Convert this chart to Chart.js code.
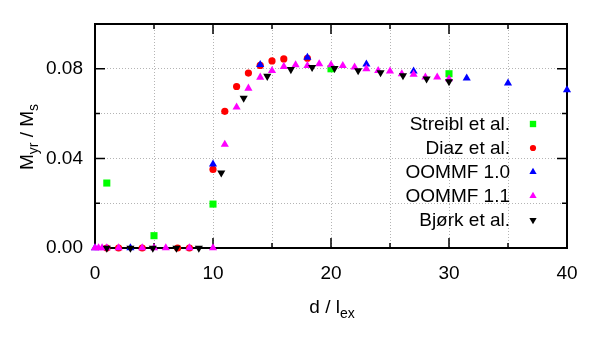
<!DOCTYPE html>
<html>
<head>
<meta charset="utf-8">
<script src="https://cdn.jsdelivr.net/npm/chart.js@4/dist/chart.umd.min.js"></script>
<style>
  html, body { margin: 0; padding: 0; background: #fff; }
  #wrap { width: 600px; height: 350px; }
</style>
</head>
<body>
<div id="wrap"><canvas id="myrChart" width="600" height="350"></canvas></div>
<script>
// DATA
const streiblX = [1, 5, 10, 20, 30];
const streiblY = [0.029, 0.0055, 0.0196, 0.080, 0.0778];

const diazX = [1, 2, 4, 7, 8, 10, 11, 12, 13, 14, 15, 16, 18];
const diazY = [0, 0, 0, 0, 0, 0.0351, 0.061, 0.0721, 0.0781, 0.0815, 0.0835, 0.0844, 0.0847];

const oommf10X = [0, 3, 10, 14, 18, 23, 27, 31.5, 35, 40];
const oommf10Y = [0, 0, 0.0374, 0.0818, 0.0851, 0.0821, 0.0789, 0.0758, 0.0736, 0.0706];

const oommf11X = [0, 0.3, 0.6, 1, 2, 4, 5, 6, 8, 10, 11, 12, 13, 14, 15, 16, 17, 18, 19, 20,
                  21, 22, 23, 24, 25, 26, 27, 28, 29, 30];
const oommf11Y = [0, 0, 0, 0, 0, 0, 0, 0, 0, 0, 0.0462, 0.0629, 0.0713, 0.0762, 0.0792, 0.081,
                  0.0817, 0.0814, 0.0822, 0.0817, 0.0814, 0.0807, 0.080, 0.0792, 0.0789, 0.0777,
                  0.0775, 0.0763, 0.0763, 0.0755];

const bjorkX = [1, 3, 4.9, 6.9, 8.8, 10.7, 12.6, 14.6, 16.6, 18.4, 20.3, 22.3, 24.2, 26.1, 28.1, 30];
const bjorkY = [0, 0, 0, 0, 0, 0.0336, 0.0669, 0.0767, 0.0797, 0.0807, 0.0802, 0.0792, 0.0783,
                0.077, 0.0755, 0.0743];

const seriesNames = ['Streibl et al.', 'Diaz et al.', 'OOMMF 1.0', 'OOMMF 1.1', 'Bjørk et al.'];

const FONT = 'Liberation Sans, Arial, sans-serif';

function pts(xs, ys) {
    return xs.map((x, i) => ({ x: x, y: ys[i] }));
}

// frame with inward ticks (gnuplot style)
const framePlugin = {
    id: 'frame',
    beforeDatasetsDraw(chart) {
        const ctx = chart.ctx;
        const a = chart.chartArea;
        const xs = chart.scales.x, ys = chart.scales.y;
        ctx.save();
        ctx.strokeStyle = '#000';
        ctx.lineWidth = 1.5;
        ctx.beginPath();
        for (let v = 5; v < 40; v += 5) {
            const px = xs.getPixelForValue(v);
            const len = v % 10 === 0 ? 10 : 5;
            ctx.moveTo(px, a.bottom); ctx.lineTo(px, a.bottom - len);
            ctx.moveTo(px, a.top); ctx.lineTo(px, a.top + len);
        }
        for (let k = 1; k < 5; k++) {
            const py = ys.getPixelForValue(k * 0.02);
            const len = k % 2 === 0 ? 10 : 5;
            ctx.moveTo(a.left, py); ctx.lineTo(a.left + len, py);
            ctx.moveTo(a.right, py); ctx.lineTo(a.right - len, py);
        }
        ctx.stroke();
        ctx.lineWidth = 2;
        ctx.strokeRect(a.left, a.top, a.right - a.left, a.bottom - a.top);
        ctx.restore();
    }
};

function drawParts(ctx, parts, x, y) {
    let cx = x;
    parts.forEach(p => {
        ctx.font = (p.sub ? 14 : 19) + 'px ' + FONT;
        ctx.fillText(p.t, cx, y + (p.sub ? 5 : 0));
        cx += ctx.measureText(p.t).width;
    });
}

function partsWidth(ctx, parts) {
    let w = 0;
    parts.forEach(p => {
        ctx.font = (p.sub ? 14 : 19) + 'px ' + FONT;
        w += ctx.measureText(p.t).width;
    });
    return w;
}

// axis titles with subscripts + legend inside the plot
const labelPlugin = {
    id: 'labels',
    afterDraw(chart) {
        const ctx = chart.ctx;
        ctx.save();
        ctx.fillStyle = '#000';
        ctx.textBaseline = 'alphabetic';
        ctx.textAlign = 'left';

        const xt = [{ t: 'd / l' }, { t: 'ex', sub: true }];
        const xw = partsWidth(ctx, xt);
        drawParts(ctx, xt, 332 - xw / 2, 313);

        const yt = [{ t: 'M' }, { t: 'yr', sub: true }, { t: ' / M' }, { t: 's', sub: true }];
        const yw = partsWidth(ctx, yt);
        ctx.save();
        ctx.translate(33, 137);
        ctx.rotate(-Math.PI / 2);
        drawParts(ctx, yt, -yw / 2, 0);
        ctx.restore();

        // legend
        ctx.font = '19px ' + FONT;
        ctx.textAlign = 'right';
        ctx.textBaseline = 'middle';
        chart.data.datasets.forEach((ds, i) => {
            const y = 124 + i * 24;
            ctx.fillStyle = '#000';
            ctx.fillText(ds.label, 510, y + 1);
            ctx.fillStyle = ds.backgroundColor;
            const opts = { pointStyle: ds.pointStyle, radius: ds.pointRadius - 0.5,
                           rotation: ds.pointRotation || 0, borderWidth: 0 };
            if (Chart.helpers && Chart.helpers.drawPoint) {
                Chart.helpers.drawPoint(ctx, opts, 533, y);
            }
        });
        ctx.restore();
    }
};

const ctx = document.getElementById('myrChart').getContext('2d');

new Chart(ctx, {
    type: 'scatter',
    data: {
        datasets: [
            { label: seriesNames[0], data: pts(streiblX, streiblY), pointStyle: 'rect',
              pointRadius: 5, backgroundColor: '#00ff00', order: 5 },
            { label: seriesNames[1], data: pts(diazX, diazY), pointStyle: 'circle',
              pointRadius: 3.6, backgroundColor: '#ff0000', order: 4 },
            { label: seriesNames[2], data: pts(oommf10X, oommf10Y), pointStyle: 'triangle',
              pointRadius: 4.7, backgroundColor: '#0000ff', order: 3 },
            { label: seriesNames[3], data: pts(oommf11X, oommf11Y), pointStyle: 'triangle',
              pointRadius: 4.7, backgroundColor: '#ff00ff', order: 2 },
            { label: seriesNames[4], data: pts(bjorkX, bjorkY), pointStyle: 'triangle',
              pointRadius: 4.7, pointRotation: 180, backgroundColor: '#000000', order: 1 }
        ].map(d => Object.assign(d, { borderWidth: 0, pointHoverRadius: d.pointRadius,
                                      showLine: false, clip: false }))
    },
    options: {
        responsive: false,
        animation: false,
        layout: { padding: { top: 24, right: 33, left: 0, bottom: 0 } },
        plugins: {
            legend: { display: false },
            tooltip: { enabled: false }
        },
        scales: {
            x: {
                type: 'linear',
                min: 0, max: 40,
                afterFit: s => { s.height = 102; },
                grid: { color: '#b4b4b4', drawTicks: false, lineWidth: 1 },
                border: { display: false, dash: [1, 2] },
                ticks: {
                    stepSize: 5, autoSkip: false, maxRotation: 0, padding: 14,
                    color: '#000', font: { family: FONT, size: 19 },
                    callback: v => (v % 10 === 0 ? String(v) : '')
                }
            },
            y: {
                type: 'linear',
                min: 0, max: 0.1,
                afterFit: s => { s.width = 95; },
                grid: { color: '#b4b4b4', drawTicks: false, lineWidth: 1 },
                border: { display: false, dash: [1, 2] },
                ticks: {
                    stepSize: 0.02, autoSkip: false, padding: 12,
                    color: '#000', font: { family: FONT, size: 19 },
                    callback: v => (Math.round(v / 0.02) % 2 === 0 ? v.toFixed(2) : '')
                }
            }
        }
    },
    plugins: [framePlugin, labelPlugin]
});
</script>
</body>
</html>
